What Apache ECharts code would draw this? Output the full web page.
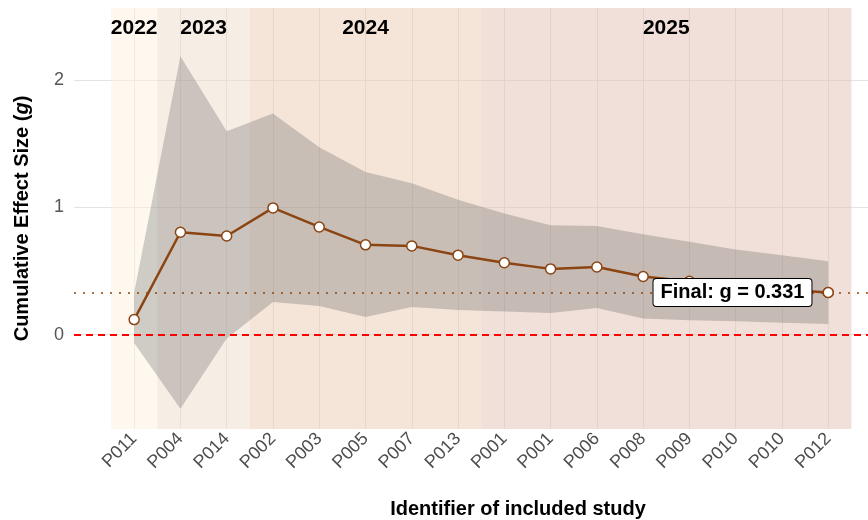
<!DOCTYPE html>
<html>
<head>
<meta charset="utf-8">
<script src="https://cdn.jsdelivr.net/npm/echarts@6.0.0/dist/echarts.min.js"></script>
<style>
  html, body { margin: 0; padding: 0; background: #fff; }
  #main { width: 868px; height: 520px; }
</style>
</head>
<body>
<div id="main"></div>
<script>
// studies in order of inclusion
var studies = ['P011', 'P004', 'P014', 'P002', 'P003', 'P005', 'P007', 'P013',
               'P001', 'P001', 'P006', 'P008', 'P009', 'P010', 'P010', 'P012'];
// cumulative g and its CI
var effect = [0.118, 0.805, 0.776, 0.997, 0.847, 0.706, 0.698, 0.625,
              0.565, 0.517, 0.532, 0.457, 0.42, 0.385, 0.355, 0.331];
var upper = [0.33, 2.19, 1.60, 1.74, 1.475, 1.28, 1.19, 1.062,
             0.953, 0.861, 0.855, 0.79, 0.73, 0.67, 0.624, 0.577];
var lower = [-0.066, -0.583, -0.03, 0.257, 0.225, 0.139, 0.217, 0.194,
             0.181, 0.170, 0.21, 0.126, 0.113, 0.105, 0.094, 0.083];
// publication years (first / last study index)
var years = ['2022', '2023', '2024', '2025'];
var yearFirst = [0, 1, 3, 8];
var yearLast = [0, 2, 7, 15];
var yearColors = ['rgba(253,241,223,0.5)', 'rgba(237,219,203,0.5)',
                  'rgba(235,203,177,0.5)', 'rgba(227,193,179,0.5)'];
var finalG = 0.331;

var brown = '#8B4513';
var idx = studies.map(function (s, i) { return i; });
var last = effect.length - 1;

var bands = years.map(function (y, i) {
    return [
        { name: y, xAxis: yearFirst[i] - 0.5, itemStyle: { color: yearColors[i] } },
        { xAxis: yearLast[i] + 0.5 }
    ];
});

var lineData = effect.map(function (v, i) { return [i, v]; });

var pointStyle = { color: '#fff', borderColor: brown, borderWidth: 1.5, opacity: 1 };

var myChart = echarts.init(document.getElementById('main'));
var option = {
    animation: false,
    textStyle: { fontFamily: 'Liberation Sans, Arial, sans-serif' },
    grid: { left: 74, right: 0, top: 8, bottom: 91, outerBoundsMode: 'none' },
    xAxis: {
        type: 'value',
        min: -1.3,
        max: 15.86,
        name: 'Identifier of included study',
        nameLocation: 'middle',
        nameGap: 70,
        nameTextStyle: { color: '#000', fontSize: 20, fontWeight: 'bold', padding: [0, 0, 0, 94] },
        axisLine: { show: false },
        axisTick: { show: false, customValues: idx },
        axisLabel: {
            customValues: idx,
            rotate: 45,
            margin: 7,
            color: '#4d4d4d',
            fontSize: 18,
            formatter: function (v) { return studies[Math.round(v)]; }
        },
        splitLine: { show: true, lineStyle: { color: '#e3e3e3', width: 1 } }
    },
    yAxis: {
        type: 'value',
        min: -0.743,
        max: 2.57,
        name: '{b|Cumulative Effect Size (}{i|g}{b|)}',
        nameLocation: 'middle',
        nameGap: 42,
        nameTextStyle: {
            rich: {
                b: { color: '#000', fontSize: 20, fontWeight: 'bold' },
                i: { color: '#000', fontSize: 20, fontWeight: 'bold', fontStyle: 'italic' }
            }
        },
        axisLine: { show: false },
        axisTick: { show: false, customValues: [0, 1, 2] },
        axisLabel: { customValues: [0, 1, 2], margin: 10, color: '#555', fontSize: 18 },
        splitLine: { show: true, lineStyle: { color: '#e3e3e3', width: 1 } }
    },
    series: [
        {
            // year backgrounds
            type: 'line',
            data: [],
            z: 1,
            markArea: {
                silent: true,
                label: {
                    show: true,
                    position: 'insideTop',
                    distance: 10,
                    color: '#000',
                    fontSize: 21,
                    fontWeight: 'bold'
                },
                data: bands
            }
        },
        {
            // confidence ribbon
            type: 'custom',
            z: 2,
            silent: true,
            data: [[0, 0]],
            renderItem: function (params, api) {
                var pts = [];
                for (var i = 0; i < upper.length; i++) pts.push(api.coord([i, upper[i]]));
                for (var j = lower.length - 1; j >= 0; j--) pts.push(api.coord([j, lower[j]]));
                return {
                    type: 'polygon',
                    shape: { points: pts },
                    style: { fill: 'rgba(100,100,100,0.3)' }
                };
            }
        },
        {
            // reference lines
            type: 'line',
            data: [],
            z: 3,
            markLine: {
                silent: true,
                symbol: ['none', 'none'],
                label: { show: false },
                data: [
                    { yAxis: 0, lineStyle: { color: '#ff0000', width: 2, type: [7, 5] } },
                    { yAxis: finalG, lineStyle: { color: brown, width: 1.5, type: [2, 7] } }
                ]
            }
        },
        {
            type: 'line',
            z: 4,
            data: lineData,
            lineStyle: { color: brown, width: 2.5 },
            symbol: 'circle',
            symbolSize: 10,
            itemStyle: pointStyle
        },
        {
            // final estimate with its label on top
            type: 'scatter',
            z: 10,
            data: [[last, effect[last]]],
            symbolSize: 10,
            itemStyle: pointStyle,
            label: {
                show: true,
                position: 'left',
                distance: 11,
                formatter: 'Final: g = ' + finalG.toFixed(3),
                color: '#000',
                fontSize: 20,
                fontWeight: 'bold',
                lineHeight: 22,
                backgroundColor: '#fff',
                borderColor: '#000',
                borderWidth: 1,
                borderRadius: 3,
                padding: [3, 7, 2, 7]
            }
        }
    ]
};
myChart.setOption(option);
</script>
</body>
</html>
